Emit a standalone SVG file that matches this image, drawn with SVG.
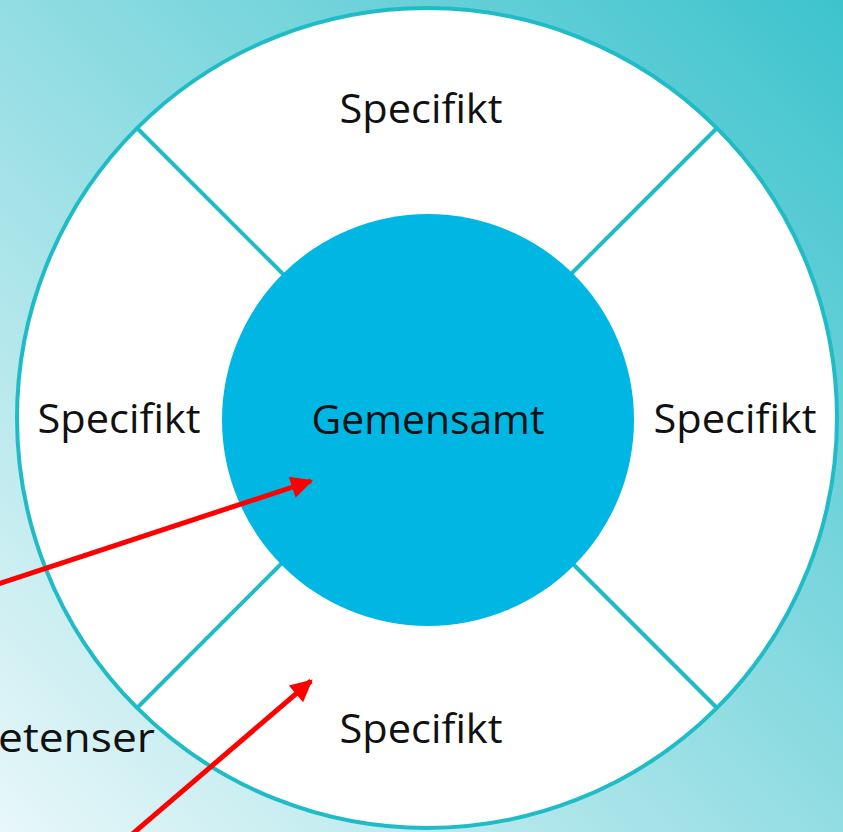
<svg xmlns="http://www.w3.org/2000/svg" width="843" height="832" viewBox="0 0 843 832">
<defs>
<linearGradient id="bg" x1="0" y1="1" x2="1" y2="0">
<stop offset="0" stop-color="#e8f7f9"/>
<stop offset="0.5" stop-color="#92dde3"/>
<stop offset="1" stop-color="#3dc3cd"/>
</linearGradient>
<marker id="ah" viewBox="0 0 10 10" refX="9" refY="5" markerWidth="5" markerHeight="4.4" orient="auto" markerUnits="strokeWidth">
<path d="M0,0 L10,5 L0,10 z" fill="#ff0000"/>
</marker>
<style>
.lbl{font-family:"Open Sans","Liberation Sans",Arial,sans-serif;font-size:40px;fill:#111;text-anchor:middle}
.div{stroke:#1fbcc8;stroke-width:4;fill:none}
.arr{stroke:#ff0000;stroke-width:5;fill:none;marker-end:url(#ah)}
</style>
</defs>
<rect width="843" height="832" fill="url(#bg)"/>
<g id="outer">
<circle cx="427" cy="418" r="410" fill="#ffffff" stroke="#1fbcc8" stroke-width="4"/>
</g>
<g id="dividers">
<line class="div" x1="137" y1="128" x2="285" y2="276"/>
<line class="div" x1="717" y1="128" x2="569" y2="276"/>
<line class="div" x1="137" y1="708" x2="285" y2="560"/>
<line class="div" x1="717" y1="708" x2="569" y2="560"/>
</g>
<g id="center">
<circle cx="428" cy="420" r="206" fill="#00b7e4"/>
<text class="lbl" x="428" y="434" textLength="233" lengthAdjust="spacingAndGlyphs">Gemensamt</text>
</g>
<g id="top"><text class="lbl" x="421" y="123" textLength="163" lengthAdjust="spacingAndGlyphs">Specifikt</text></g>
<g id="left"><text class="lbl" x="119" y="433" textLength="163" lengthAdjust="spacingAndGlyphs">Specifikt</text></g>
<g id="right"><text class="lbl" x="735" y="433" textLength="163" lengthAdjust="spacingAndGlyphs">Specifikt</text></g>
<g id="bottom"><text class="lbl" x="421" y="743" textLength="163" lengthAdjust="spacingAndGlyphs">Specifikt</text></g>
<g id="side-label"><text class="lbl" x="155" y="752" style="text-anchor:end" textLength="157" lengthAdjust="spacingAndGlyphs">etenser</text></g>
<g id="connectors">
<line class="arr" x1="-5" y1="585" x2="311" y2="481"/>
<line class="arr" x1="130" y1="836" x2="311" y2="681"/>
</g>
</svg>
